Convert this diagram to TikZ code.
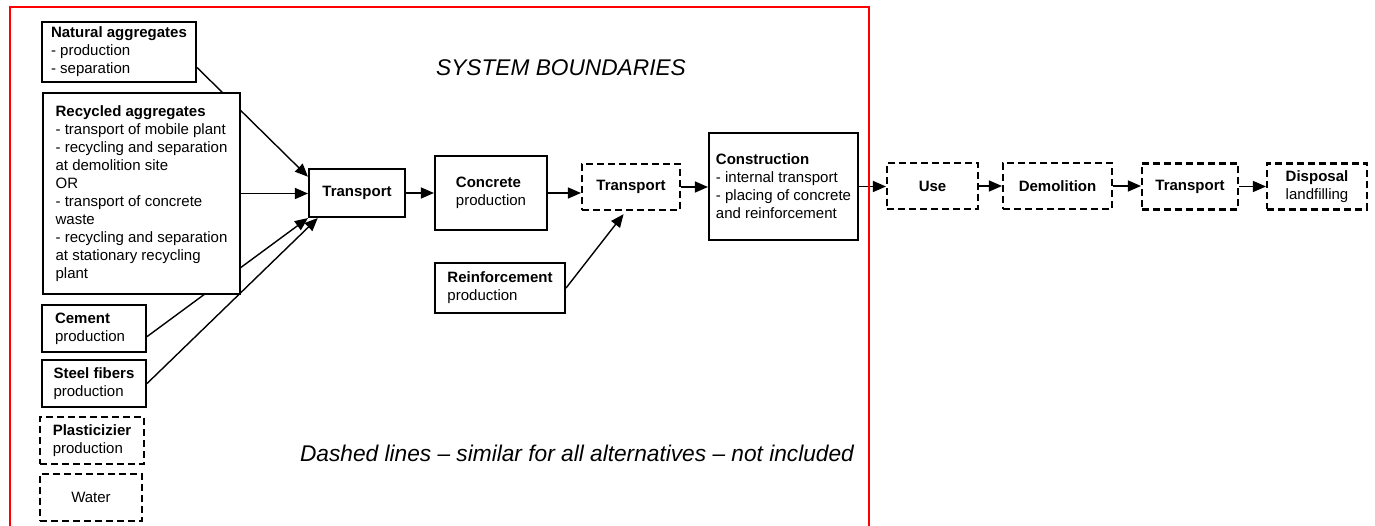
\documentclass[tikz,border=0pt]{standalone}
\usepackage{fontspec}
\setmainfont{Liberation Sans}
\usepackage{tikz}
\usetikzlibrary{arrows.meta}
\usetikzlibrary{calc}

\begin{document}
\begin{tikzpicture}[x=1pt,y=-1pt]
\tikzstyle{box} = [draw, line width=2.1pt, align=left, inner sep=2pt, font=\fontsize{15}{18}\selectfont]
\tikzstyle{dbox} = [box, dash pattern=on 7pt off 4pt]
\tikzstyle{flow} = [line width=1.4pt, -{Triangle[length=13pt,width=11pt]}]
\tikzstyle{note} = [font=\fontsize{22.7}{27}\selectfont\itshape]
\useasboundingbox (0,0) rectangle (1375,526);

% inputs
\node[box, minimum width=154, minimum height=60] (nat) at (119,52) {\textbf{Natural aggregates}\\- production\\- separation};
\node[box, minimum width=104, minimum height=47, text width=78, inner xsep=13] (cem) at (94,328.5) {\textbf{Cement}\\production};
\node[box, minimum width=104, minimum height=47] (stl) at (94,383.5) {\textbf{Steel fibers}\\production};
\node[dbox, minimum width=104, minimum height=47] (pla) at (92,440.5) {\textbf{Plasticizier}\\production};
\node[dbox, minimum width=102, minimum height=47] (wat) at (91,497.5) {Water};
\node[box, minimum width=96, minimum height=48] (tr1) at (357,193) {\textbf{Transport}};

\draw[flow] ($(nat.east)!0.5!(nat.south east)$) -- ($(tr1.north west)!0.35!(tr1.west)$);
\draw[flow] ($(cem.east)!0.33!(cem.south east)$) -- (tr1.south west);
\draw[flow] (stl.east) -- ($(tr1.south west)!0.1!(tr1.south east)$);

\node[box, fill=white, minimum width=197, minimum height=201] (rec) at (141.5,193.5) {\textbf{Recycled aggregates}\\- transport of mobile plant\\- recycling and separation\\at demolition site\\OR\\- transport of concrete\\waste\\- recycling and separation\\at stationary recycling\\plant};
\draw[flow] (rec.east) -- (rec.east -| tr1.west);

% production chain
\node[box, minimum width=112, minimum height=74] (con) at (491,193) {\textbf{Concrete}\\production};
\node[dbox, minimum width=98, minimum height=46] (tr2) at (631,187) {\textbf{Transport}};
\node[box, minimum width=130, minimum height=50] (rein) at (500,288) {\textbf{Reinforcement}\\production};
\node[box, minimum width=149, minimum height=107] (cons) at (783.5,186.5) {\textbf{Construction}\\- internal transport\\- placing of concrete\\and reinforcement};
\node[dbox, minimum width=91, minimum height=46] (use) at (932.5,186) {\textbf{Use}};
\node[dbox, minimum width=109, minimum height=46] (dem) at (1057.5,186) {\textbf{Demolition}};
\node[dbox, minimum width=96, minimum height=46] (tr3) at (1190,186.5) {\textbf{Transport}};
\node[dbox, minimum width=100, minimum height=46] (dis) at (1317,186.5) {\textbf{Disposal}\\landfilling};

\draw[flow] (tr1.east) -- (tr1.east -| con.west);
\draw[flow] (con.east) -- (con.east -| tr2.west);
\draw[flow, shorten >=4pt] (rein.east) -- ($(tr2.south)!0.1!(tr2.south west)$);
\draw[flow] (tr2.east) -- (tr2.east -| cons.west);
\draw[flow] (cons.east) -- (cons.east -| use.west);
\draw[flow] (use.east) -- (use.east -| dem.west);
\draw[flow] (dem.east) -- (dem.east -| tr3.west);
\draw[flow] (tr3.east) -- (tr3.east -| dis.west);

\node[note] (sb) at (561,68) {SYSTEM BOUNDARIES};
\node[note] (dl) at (577,453) {Dashed lines – similar for all alternatives – not included};

% system boundaries
\draw[red, line width=2pt] (10,530) -- (10,7) -- (869,7) -- (869,530);
\end{tikzpicture}
\end{document}
